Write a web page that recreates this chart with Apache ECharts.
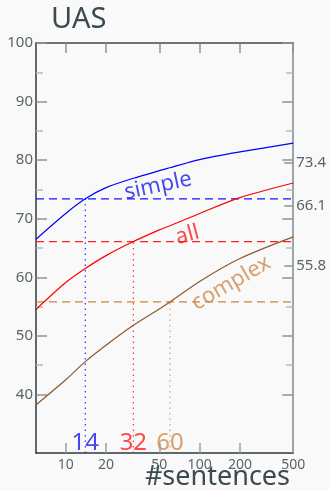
<!DOCTYPE html>
<html>
<head>
<meta charset="utf-8">
<script src="https://cdn.jsdelivr.net/npm/echarts@6/dist/echarts.min.js"></script>
<style>
  html, body { margin: 0; padding: 0; background: #f9f9f9; }
  #chart { width: 329px; height: 491px; }
</style>
</head>
<body>
<div id="chart"></div>
<script>
// UAS against number of training sentences (log scale)
const sentenceCounts = [6, 10, 14, 20, 32, 50, 60, 100, 200, 500];
const simpleUAS  = [66.5, 70.9, 73.4, 75.3, 76.9, 78.2, 78.7, 80.1, 81.4, 82.9];
const allUAS     = [54.5, 59.1, 61.5, 63.7, 66.1, 68.1, 68.8, 70.9, 73.6, 76.1];
const complexUAS = [38.2, 42.5, 45.6, 48.4, 51.8, 54.6, 55.8, 59.3, 63.2, 66.9];

// reference levels and the sentence counts where each curve reaches them
const levels     = [73.4, 66.1, 55.8];
const crossings  = [14, 32, 60];
const names      = ['simple', 'all', 'complex'];

const xTicks = [10, 20, 50, 100, 200, 500];
const yMajor = [40, 50, 60, 70, 80, 90, 100];
const yMinor = [45, 55, 65, 75, 85, 95];

const lineColors  = ['#0000ff', '#ff0000', '#8b5a2b'];
const levelColors = ['#1515ff', '#ff2020', '#cd853f'];
const textColors  = ['#1a1aee', '#ff1a1a', '#cd8a4c'];

const FONT = 'Noto Sans';
const labelGray = '#5a6568';
const X_MIN = 6, X_MAX = 500, Y_MIN = 30, Y_MAX = 100;
const RIGHT_SHIFT = 6.15;

function pairs(xs, ys) { return xs.map((x, i) => [x, ys[i]]); }

const chart = echarts.init(document.getElementById('chart'), null, { renderer: 'canvas' });

const curveSeries = [simpleUAS, allUAS, complexUAS].map((vals, i) => ({
  type: 'line',
  name: names[i],
  data: pairs(sentenceCounts, vals),
  smooth: 0.3,
  showSymbol: false,
  silent: true,
  lineStyle: { color: lineColors[i], width: 1.2 },
  z: 5
}));

// Horizontal dashed level lines across the full x range
const levelSeries = levels.map((lv, i) => ({
  type: 'line',
  data: [[X_MIN, lv], [X_MAX, lv]],
  showSymbol: false,
  silent: true,
  lineStyle: { color: levelColors[i], width: 1.3, type: [8, 5] },
  z: 3
}));

// Dotted drops from each crossing down to the x axis
const dropSeries = crossings.map((c, i) => ({
  type: 'line',
  data: [[c, Y_MIN], [c, levels[i]]],
  showSymbol: false,
  silent: true,
  lineStyle: { color: levelColors[i], width: 1.2, type: [1.5, 4], opacity: i === 2 ? 0.75 : 0.9 },
  z: 3
}));

// Crossing counts printed at the foot of each dotted line
const crossingLabels = {
  type: 'scatter',
  symbolSize: 0,
  silent: true,
  data: crossings.map((c, i) => ({
    value: [c, Y_MIN],
    label: { color: textColors[i] }
  })),
  label: {
    show: true,
    position: 'top',
    distance: -2,
    formatter: p => String(p.value[0]),
    fontFamily: FONT,
    fontSize: 24
  },
  z: 6
};

// Curve names written along the lines
const namePos = [[49, 75.6, 12], [81, 67.2, 15], [172, 59.0, 30]];
const nameLabels = {
  type: 'scatter',
  symbolSize: 0,
  silent: true,
  data: names.map((n, i) => ({
    value: [namePos[i][0], namePos[i][1]],
    name: n,
    label: { color: textColors[i], rotate: namePos[i][2] }
  })),
  label: {
    show: true,
    position: 'inside',
    formatter: p => p.name,
    fontFamily: FONT,
    fontSize: 22
  },
  z: 6
};

chart.setOption({
  backgroundColor: '#f9f9f9',
  animation: false,
  textStyle: { fontFamily: FONT },
  title: {
    text: 'UAS',
    left: 46,
    top: 0,
    textStyle: { fontFamily: FONT, fontSize: 29, fontWeight: 'normal', color: '#3b4a50' }
  },
  graphic: [{
    type: 'text',
    right: 39,
    bottom: 0,
    style: { text: '#sentences', fontFamily: FONT, fontSize: 27, fill: '#3b4a50' }
  }],
  grid: { left: 36, right: 35, top: 43, bottom: 38 },
  xAxis: [{
    type: 'log',
    logBase: 10,
    min: X_MIN,
    max: X_MAX,
    position: 'bottom',
    axisLine: { lineStyle: { color: '#2c3a3f', width: 1.5 } },
    axisTick: { inside: true, length: 10, customValues: xTicks, lineStyle: { color: '#9aa0a2', width: 1.5 } },
    axisLabel: { customValues: xTicks, color: labelGray, fontSize: 14, margin: 5, fontFamily: FONT },
    splitLine: { show: false },
    minorTick: { show: false }
  }, {
    type: 'log',
    logBase: 10,
    min: X_MIN,
    max: X_MAX,
    position: 'top',
    axisLine: { lineStyle: { color: '#3c4a4f', width: 1.5 } },
    axisTick: { inside: true, length: 10, customValues: xTicks, lineStyle: { color: '#8a9294', width: 1.5 } },
    axisLabel: { show: false },
    splitLine: { show: false }
  }],
  yAxis: [{
    // left: major ticks and labels
    type: 'value', min: Y_MIN, max: Y_MAX, position: 'left',
    axisLine: { show: true, lineStyle: { color: '#2c3a3f', width: 1.5 } },
    axisTick: { inside: true, length: 11, customValues: yMajor, lineStyle: { color: '#8d9598', width: 1.5 } },
    axisLabel: { customValues: yMajor, color: labelGray, fontSize: 15, margin: 3, fontFamily: FONT },
    splitLine: { show: false }
  }, {
    // left: minor ticks
    type: 'value', min: Y_MIN, max: Y_MAX, position: 'left',
    axisLine: { show: false },
    axisTick: { inside: true, length: 7, customValues: yMinor, lineStyle: { color: '#b5babc', width: 1.5 } },
    axisLabel: { show: false },
    splitLine: { show: false }
  }, {
    // right: major ticks
    type: 'value', min: Y_MIN, max: Y_MAX, position: 'right',
    axisLine: { show: true, lineStyle: { color: '#7d898c', width: 1.5 } },
    axisTick: { inside: true, length: 11, customValues: yMajor, lineStyle: { color: '#8d9598', width: 1.5 } },
    axisLabel: { show: false },
    splitLine: { show: false }
  }, {
    // right: minor ticks
    type: 'value', min: Y_MIN, max: Y_MAX, position: 'right',
    axisLine: { show: false },
    axisTick: { inside: true, length: 7, customValues: yMinor, lineStyle: { color: '#b5babc', width: 1.5 } },
    axisLabel: { show: false },
    splitLine: { show: false }
  }, {
    // right: level readouts
    type: 'value', min: Y_MIN - RIGHT_SHIFT, max: Y_MAX - RIGHT_SHIFT, position: 'right',
    axisLine: { show: false },
    axisTick: { inside: true, length: 9, customValues: levels, lineStyle: { color: '#8d9598', width: 1.5 } },
    axisLabel: { customValues: levels, color: labelGray, fontSize: 15, margin: 3, fontFamily: FONT,
                 formatter: v => v.toFixed(1) },
    splitLine: { show: false }
  }],
  series: [...levelSeries, ...dropSeries, ...curveSeries, crossingLabels, nameLabels]
});
</script>
</body>
</html>
